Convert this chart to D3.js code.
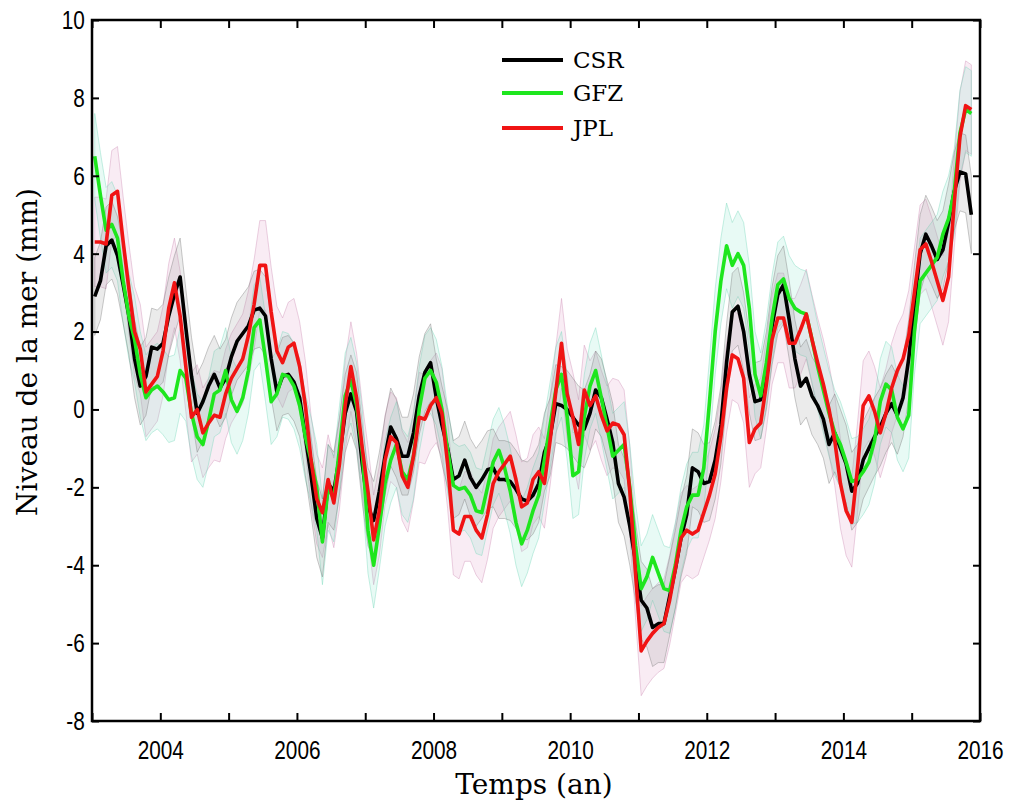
<!DOCTYPE html>
<html>
<head>
<meta charset="utf-8">
<script src="https://cdn.jsdelivr.net/npm/d3@7"></script>
<style>
  body { margin: 0; background: #fff; }
  svg { display: block; }
</style>
</head>
<body>
<div id="chart"></div>
<script>
// monthly samples, first one at startYear
const startYear = 2003.04;

const csr = [
  2.9, 3.3, 4.2, 4.35, 3.95, 3.2, 2.4, 1.3, 0.6, 0.85,
  1.6, 1.55, 1.7, 2.4, 2.95, 3.4, 2.1, 0.85, -0.1, 0.2,
  0.6, 0.9, 0.55, 0.8, 1.35, 1.75, 1.95, 2.15, 2.55, 2.6,
  2.4, 1.3, 0.45, 0.85, 0.9, 0.7, 0.3, -0.7, -1.7, -2.8,
  -3.3, -1.9, -2.1, -1.2, -0.1, 0.4, -0.05, -1.4, -2.5, -2.85,
  -2.1, -1.2, -0.45, -0.75, -1.2, -1.2, -0.6, 0.35, 0.95, 1.2,
  0.3, -0.4, -1.0, -1.8, -1.7, -1.3, -1.75, -2.0, -1.8, -1.55,
  -1.5, -1.8, -1.8, -1.85, -2.05, -2.3, -2.35, -2.2, -1.9, -1.1,
  -0.7, 0.15, 0.1, 0.0, -0.2, -0.4, -0.5, -0.1, 0.5, 0.3,
  -0.25, -0.85, -1.9, -2.25, -3.0, -3.9, -4.9, -5.1, -5.6, -5.5,
  -5.5, -4.8, -4.1, -3.3, -2.7, -1.5, -1.6, -1.9, -1.85, -1.3,
  -0.4, 1.2, 2.5, 2.65, 2.0, 0.9, 0.2, 0.25, 1.0, 2.15,
  2.95, 3.2, 2.3, 1.3, 0.6, 0.8, 0.35, 0.1, -0.25, -0.9,
  -0.6, -1.0, -1.4, -2.1, -1.9, -1.3, -1.0, -0.7, -0.45, -0.1,
  0.15, -0.15, 0.3, 1.3, 2.7, 4.0, 4.5, 4.2, 3.85, 4.1,
  4.8, 5.6, 6.1, 6.05, 5.0
];

const gfz = [
  6.5, 5.5, 4.6, 4.75, 4.4, 3.3, 2.4, 1.8, 0.9, 0.3,
  0.5, 0.6, 0.45, 0.25, 0.3, 1.0, 0.8, -0.1, -0.7, -0.9,
  -0.3, 0.4, 0.5, 1.0, 0.25, -0.05, 0.3, 1.0, 2.1, 2.3,
  1.3, 0.2, 0.4, 0.9, 0.85, 0.6, 0.1, -0.7, -1.3, -2.0,
  -3.4, -2.0, -2.3, -1.0, 0.35, 0.75, 0.1, -1.1, -3.1, -4.0,
  -3.0, -1.9, -1.3, -0.9, -1.6, -1.8, -1.2, 0.0, 0.8, 1.0,
  0.7, 0.0, -1.05, -1.95, -2.05, -2.0, -2.2, -2.6, -2.65, -2.0,
  -1.35, -1.05, -1.5, -2.1, -2.9, -3.45, -3.1, -2.6, -2.2, -1.3,
  -0.4, 0.5, 0.9, -0.2, -1.7, -1.6, -0.2, 0.6, 1.0, 0.3,
  -0.45, -1.2, -1.05, -0.9, -2.0, -3.5, -4.6, -4.3, -3.8, -4.2,
  -4.6, -4.65, -4.0, -3.1, -2.5, -2.2, -2.2, -1.5, 0.2, 2.0,
  3.3, 4.2, 3.7, 4.0, 3.7, 2.6, 0.9, 0.35, 1.2, 2.35,
  3.2, 3.35, 2.85, 2.6, 2.5, 2.45, 1.8, 1.1, 0.5, -0.1,
  -0.6, -0.9, -1.35, -1.85, -1.8, -1.6, -1.35, -0.8, 0.2, 0.65,
  0.5, -0.2, -0.5, -0.15, 2.0, 3.3, 3.5, 3.7, 3.9, 4.5,
  4.9, 5.6, 7.1, 7.7, 7.6
];

const jpl = [
  4.3, 4.3, 4.25, 5.5, 5.6, 4.3, 3.1, 2.0, 1.55, 0.45,
  0.65, 0.85, 1.5, 2.6, 3.25, 2.4, 1.1, -0.2, 0.0, -0.6,
  -0.35, -0.15, -0.2, 0.4, 0.8, 1.05, 1.3, 1.9, 2.7, 3.7,
  3.7, 2.5, 1.5, 1.2, 1.6, 1.7, 1.1, 0.1, -1.3, -2.3,
  -2.65, -1.8, -2.4, -1.4, 0.1, 1.1, 0.3, -1.0, -2.1, -3.35,
  -2.6, -1.3, -0.7, -0.85, -1.7, -2.0, -1.2, -0.2, -0.25, 0.1,
  0.3, -0.1, -1.4, -3.1, -3.2, -2.75, -2.75, -3.1, -3.3, -2.7,
  -1.9, -1.6, -1.4, -1.2, -1.8, -2.5, -2.4, -1.8, -1.6, -1.9,
  -0.8, 0.45, 1.7, 0.4, -0.2, -0.9, 0.5, 0.1, 0.35, -0.15,
  -0.55, -0.35, -0.4, -0.65, -2.1, -4.2, -6.2, -5.95, -5.75, -5.6,
  -5.5, -4.9, -4.1, -3.3, -3.1, -3.2, -3.1, -2.65, -2.2, -1.65,
  -0.7, 0.55, 1.4, 1.3, 0.8, -0.85, -0.5, -0.35, 0.65, 1.8,
  2.35, 2.35, 1.7, 1.7, 2.05, 2.45, 1.8, 1.2, 0.65, 0.0,
  -0.8, -1.9, -2.6, -2.9, -1.5, 0.1, 0.35, -0.05, -0.6, -0.1,
  0.55, 1.0, 1.3, 1.9, 3.0, 4.1, 4.25, 3.8, 3.3, 2.8,
  3.4, 5.3, 7.0, 7.8, 7.7
];

// half width of the shaded uncertainty band (mm)
const csrErr = 1.0;
const gfzErr = 1.1;
const jplErr = 1.15;

const seriesNames = ['CSR', 'GFZ', 'JPL'];
const yearTicks = d3.range(2003, 2017);
const levelTicks = d3.range(-8, 11, 2);

const width = 1011;
const height = 806;
const plot = { left: 92, right: 980, top: 20, bottom: 721 };

const series = [
  { name: seriesNames[0], values: csr, err: csrErr, color: '#000000', band: '#8e8e8e', edge: '#7a7a7a' },
  { name: seriesNames[1], values: gfz, err: gfzErr, color: '#1ee61e', band: '#7fe6c6', edge: '#74d8b8' },
  { name: seriesNames[2], values: jpl, err: jplErr, color: '#f01414', band: '#dc98c4', edge: '#cc8cb4' }
];

const x = d3.scaleLinear().domain([2003, 2016]).range([plot.left, plot.right]);
const y = d3.scaleLinear().domain([-8, 10]).range([plot.bottom, plot.top]);
const t = i => startYear + i / 12;

const svg = d3.select('#chart').append('svg')
  .attr('width', width)
  .attr('height', height);

const g = svg.append('g');

// bands
const bandArea = err => d3.area()
  .x((_, i) => x(t(i)))
  .y0(d => y(d - err))
  .y1(d => y(d + err));

[series[2], series[1], series[0]].forEach(s => {
  g.append('path')
    .datum(s.values)
    .attr('d', bandArea(s.err))
    .attr('fill', s.band)
    .attr('fill-opacity', 0.18)
    .attr('stroke', s.edge)
    .attr('stroke-opacity', 0.4)
    .attr('stroke-width', 1);
});

// lines
const line = d3.line()
  .x((_, i) => x(t(i)))
  .y(d => y(d));

series.forEach(s => {
  g.append('path')
    .datum(s.values)
    .attr('d', line)
    .attr('fill', 'none')
    .attr('stroke', s.color)
    .attr('stroke-width', 3.6)
    .attr('stroke-linejoin', 'round');
});

// axes (ticks point inward)
const styleAxis = sel => {
  sel.select('.domain').remove();
  sel.selectAll('.tick line').attr('stroke', '#000').attr('stroke-width', 2);
  sel.selectAll('.tick text')
    .attr('font-family', 'Liberation Sans, Arial, sans-serif')
    .attr('font-size', 26)
    .attr('fill', '#000');
};

svg.append('g')
  .attr('transform', `translate(0,${plot.bottom})`)
  .call(d3.axisBottom(x).tickValues(yearTicks).tickSize(-8).tickSizeOuter(0).tickPadding(20)
    .tickFormat(d => (d % 2 === 0 ? String(d) : '')))
  .call(styleAxis)
  .selectAll('.tick text').attr('transform', 'scale(0.8,1)');

svg.append('g')
  .attr('transform', `translate(0,${plot.top})`)
  .call(d3.axisTop(x).tickValues(yearTicks).tickSize(-8).tickSizeOuter(0).tickFormat(''))
  .call(styleAxis);

svg.append('g')
  .attr('transform', `translate(${plot.left},0)`)
  .call(d3.axisLeft(y).tickValues(levelTicks).tickSize(-7).tickSizeOuter(0).tickPadding(9)
    .tickFormat(d => String(d)))
  .call(styleAxis)
  .selectAll('.tick text').attr('transform', 'scale(0.8,1)');

svg.append('g')
  .attr('transform', `translate(${plot.right},0)`)
  .call(d3.axisRight(y).tickValues(levelTicks).tickSize(-7).tickSizeOuter(0).tickFormat(''))
  .call(styleAxis);

// frame
svg.append('rect')
  .attr('x', plot.left)
  .attr('y', plot.top)
  .attr('width', plot.right - plot.left)
  .attr('height', plot.bottom - plot.top)
  .attr('fill', 'none')
  .attr('stroke', '#000')
  .attr('stroke-width', 2.5);

// axis titles
svg.append('text')
  .attr('x', (plot.left + plot.right) / 2 - 2)
  .attr('y', 794)
  .attr('text-anchor', 'middle')
  .attr('font-family', 'DejaVu Serif, serif')
  .attr('font-size', 28)
  .text('Temps (an)');

svg.append('text')
  .attr('transform', 'translate(37,352) rotate(-90)')
  .attr('text-anchor', 'middle')
  .attr('font-family', 'DejaVu Serif, serif')
  .attr('font-size', 28)
  .text('Niveau de la mer (mm)');

// legend
const legend = svg.append('g').attr('transform', 'translate(502,60)');
const legendRow = [0, 33, 68];
series.forEach((s, i) => {
  const row = legend.append('g').attr('transform', `translate(0,${legendRow[i]})`);
  row.append('line')
    .attr('x1', 0).attr('x2', 61)
    .attr('stroke', s.color)
    .attr('stroke-width', 4);
  row.append('text')
    .attr('x', 71)
    .attr('y', 8)
    .attr('font-family', 'DejaVu Serif, serif')
    .attr('font-size', 23)
    .text(s.name);
});
</script>
</body>
</html>
